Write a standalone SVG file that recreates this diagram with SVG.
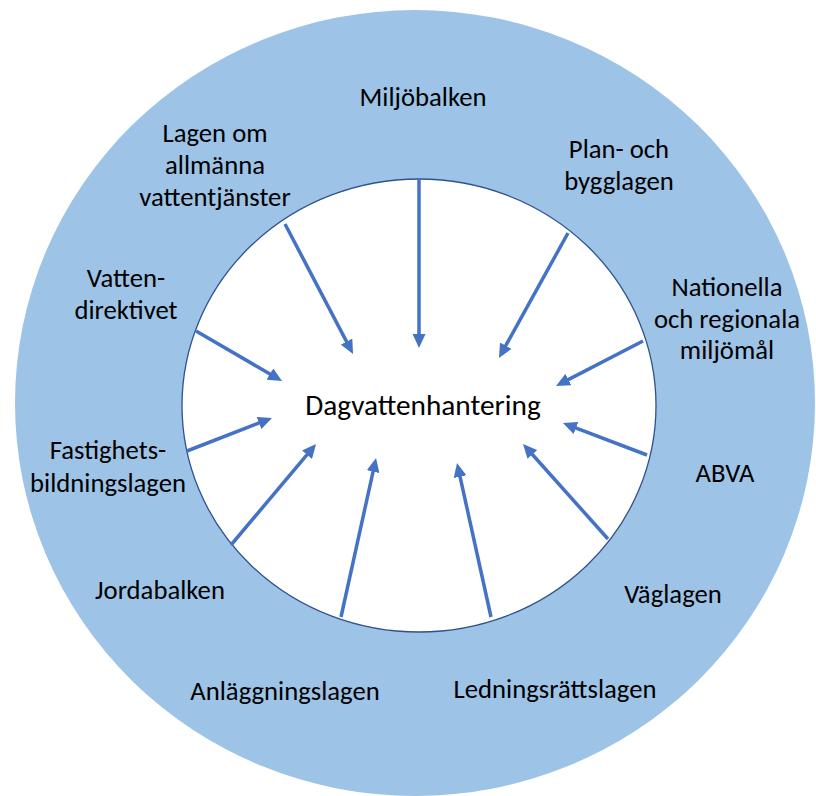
<svg xmlns="http://www.w3.org/2000/svg" width="816" height="796" viewBox="0 0 816 796">
<style>
.lbl{font-family:Carlito,Calibri,Lato,"Open Sans",sans-serif;font-size:26.7px;fill:#000;text-anchor:middle}
.ctr{font-family:Carlito,Calibri,Lato,"Open Sans",sans-serif;font-size:29.3px;fill:#000;text-anchor:middle;font-weight:300}
.arr{stroke:#4472C4;stroke-width:3.5;fill:none;marker-end:url(#ah)}
</style>
<defs>
<marker id="ah" markerUnits="userSpaceOnUse" markerWidth="14" markerHeight="13" refX="4" refY="6.5" orient="auto" viewBox="0 0 14 13">
<path d="M0,0 L14,6.5 L0,13 z" fill="#4472C4"/>
</marker>
</defs>
<rect width="816" height="796" fill="#fff"/>
<g id="outer"><ellipse cx="415" cy="403" rx="400" ry="393" fill="#9DC3E6"/></g>
<g id="inner"><ellipse cx="419" cy="405.5" rx="237" ry="226.5" fill="#fff" stroke="#2F528F" stroke-width="1.3"/></g>
<g id="connectors">
<line class="arr" x1="419" y1="179" x2="419" y2="338"/>
<line class="arr" x1="285" y1="224" x2="348.4" y2="345.1"/>
<line class="arr" x1="196" y1="331" x2="273.4" y2="376"/>
<line class="arr" x1="187" y1="451" x2="262.7" y2="421.6"/>
<line class="arr" x1="231" y1="545" x2="309.6" y2="451.7"/>
<line class="arr" x1="341" y1="617" x2="373.9" y2="467.8"/>
<line class="arr" x1="491" y1="617" x2="459.2" y2="472.8"/>
<line class="arr" x1="608" y1="539" x2="529.7" y2="451.5"/>
<line class="arr" x1="647" y1="455" x2="572.3" y2="426.6"/>
<line class="arr" x1="643" y1="341" x2="564.9" y2="381.4"/>
<line class="arr" x1="568" y1="233" x2="503.8" y2="349.2"/>
</g>
<g id="center"><text class="ctr" x="423" y="415">Dagvattenhantering</text></g>
<g id="miljobalken"><text class="lbl" x="423" y="106">Miljöbalken</text></g>
<g id="lagen-om"><text class="lbl" x="215" y="142">Lagen om</text><text class="lbl" x="215" y="174">allmänna</text><text class="lbl" x="215" y="206">vattentjänster</text></g>
<g id="plan"><text class="lbl" x="619" y="158">Plan- och</text><text class="lbl" x="619" y="190">bygglagen</text></g>
<g id="vatten"><text class="lbl" x="126" y="287">Vatten-</text><text class="lbl" x="126" y="319">direktivet</text></g>
<g id="nationella"><text class="lbl" x="727" y="296">Nationella</text><text class="lbl" x="727" y="328">och regionala</text><text class="lbl" x="727" y="359">miljömål</text></g>
<g id="fastighets"><text class="lbl" x="108" y="459">Fastighets-</text><text class="lbl" x="108" y="492">bildningslagen</text></g>
<g id="abva"><text class="lbl" x="725" y="482">ABVA</text></g>
<g id="jordabalken"><text class="lbl" x="160" y="599">Jordabalken</text></g>
<g id="vaglagen"><text class="lbl" x="673" y="603">Väglagen</text></g>
<g id="anlaggning"><text class="lbl" x="285" y="700">Anläggningslagen</text></g>
<g id="ledning"><text class="lbl" x="555" y="698">Ledningsrättslagen</text></g>
</svg>
